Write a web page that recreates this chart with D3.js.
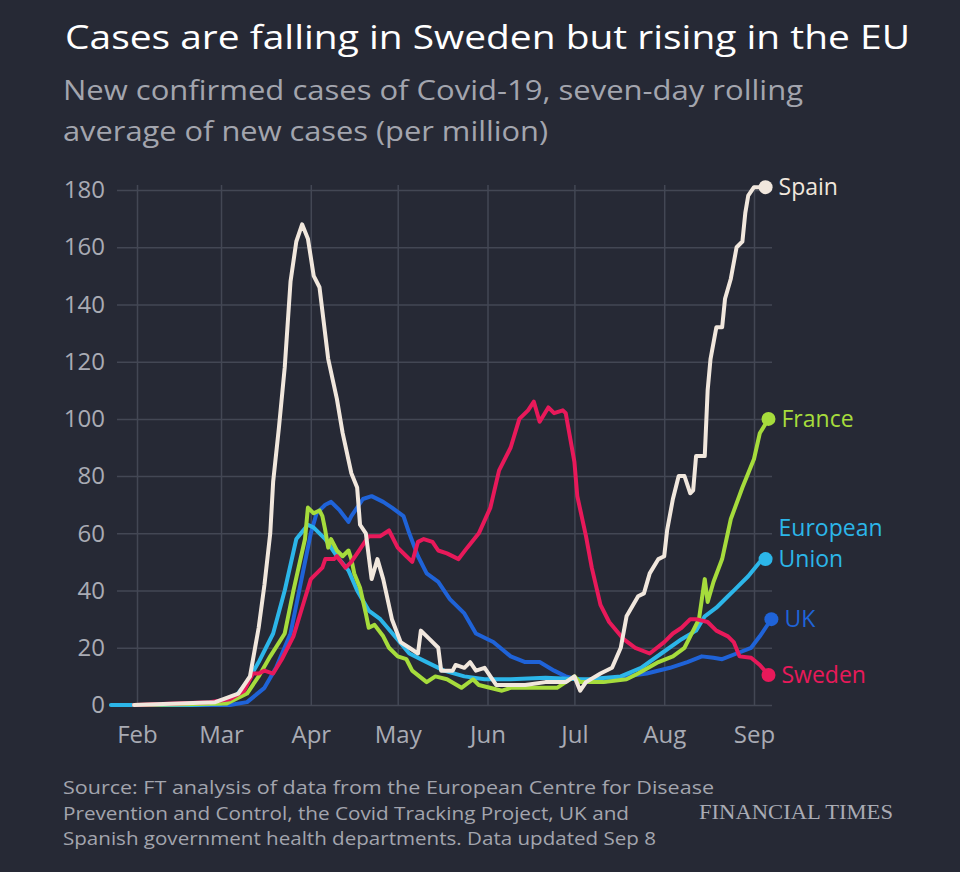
<!DOCTYPE html>
<html><head><meta charset="utf-8">
<script src="https://cdn.jsdelivr.net/npm/d3@7"></script>
<style>html,body{margin:0;background:#262935;} svg{display:block}</style>
</head><body><svg id="c" width="960" height="872"></svg>
<script>
// ---- data (year 2020) ----
const monthTicks = ["02-01","03-01","04-01","05-01","06-01","07-01","08-01","09-01"];
const monthLabels = ["Feb","Mar","Apr","May","Jun","Jul","Aug","Sep"];
const yTicks = [0,20,40,60,80,100,120,140,160,180];

const euData = [["01-23",0],["02-20",0],["03-01",0.5],["03-06",3],["03-10",8],["03-14",15],["03-19",25],["03-23",40],["03-27",58],["03-31",63],["04-02",62],["04-06",58],["04-10",52],["04-14",47],["04-17",40],["04-21",33],["04-25",30],["04-30",24],["05-05",18],["05-11",15],["05-17",12],["05-24",10],["05-31",9],["06-09",9],["06-21",9.5],["07-03",9],["07-06",9],["07-17",10],["07-24",13],["07-31",18],["08-07",23],["08-12",26],["08-15",31],["08-19",34],["08-23",38],["08-25",40],["08-30",45],["09-03",50],["09-05",51]];
const ukData = [["01-31",0],["03-04",0],["03-10",1],["03-16",6],["03-20",13],["03-25",25],["03-28",40],["04-01",60],["04-03",67],["04-06",70],["04-08",71],["04-11",68],["04-14",64],["04-15",66],["04-19",72],["04-22",73],["04-26",71],["04-29",69],["05-03",66],["05-05",60],["05-08",52],["05-11",46],["05-15",43],["05-19",37],["05-24",32],["05-28",25],["06-03",22],["06-09",17],["06-14",15],["06-19",15],["06-24",12],["06-28",10],["07-02",9],["07-11",8],["07-19",10],["07-26",11],["08-03",13],["08-09",15],["08-14",17],["08-18",16.5],["08-21",16],["08-26",18],["08-31",20],["09-03",24],["09-05",27],["09-07",30]];
const franceData = [["01-31",0],["03-03",0.5],["03-10",4],["03-14",10],["03-18",17],["03-23",25],["03-26",40],["03-28",49],["03-30",58],["03-31",69],["04-02",67],["04-04",68],["04-05",66],["04-06",61],["04-07",55],["04-08",58],["04-10",54],["04-12",52],["04-14",54],["04-15",51],["04-16",46],["04-18",41],["04-20",32],["04-21",27],["04-23",28],["04-26",24],["04-28",20],["05-01",17],["05-04",16],["05-06",12],["05-11",8],["05-14",10],["05-18",9],["05-23",6],["05-27",9],["05-29",7],["06-06",5],["06-09",6],["06-18",6],["06-25",6],["07-01",10],["07-03",8],["07-11",8],["07-19",9],["07-23",11],["07-30",15],["08-04",17],["08-08",20],["08-10",24],["08-13",30],["08-14",37],["08-15",44],["08-16",36],["08-18",43],["08-21",51],["08-24",65],["08-28",76],["09-01",86],["09-03",95],["09-06",100]];
const swedenData = [["01-31",0],["02-26",1],["03-04",2],["03-09",5],["03-12",11],["03-14",11],["03-16",12],["03-19",11],["03-22",16],["03-26",24],["03-29",34],["04-01",44],["04-03",46],["04-05",48],["04-06",51],["04-09",51],["04-10",52],["04-13",48],["04-15",50],["04-17",53],["04-21",59],["04-25",59],["04-28",61],["05-01",55],["05-04",52],["05-06",50],["05-08",57],["05-10",58],["05-13",57],["05-15",54],["05-18",53],["05-22",51],["05-25",55],["05-29",60],["06-02",69],["06-05",82],["06-09",90],["06-12",100],["06-15",103],["06-17",106],["06-19",99],["06-22",104],["06-24",102],["06-27",103],["06-28",102],["07-01",85],["07-02",73],["07-05",59],["07-07",48],["07-10",35],["07-13",29],["07-18",23],["07-22",20],["07-27",18],["08-01",22],["08-04",25],["08-07",27],["08-10",30],["08-12",30],["08-16",29],["08-19",26],["08-23",24],["08-25",22],["08-27",17],["08-31",16.5],["09-03",14],["09-06",10.5]];
const spainData = [["01-31",0],["02-28",1],["03-07",4],["03-11",10],["03-14",27],["03-16",42],["03-18",60],["03-19",78],["03-21",97],["03-23",118],["03-25",148],["03-27",162],["03-29",168],["03-31",163],["04-02",150],["04-04",146],["04-07",121],["04-10",107],["04-12",95],["04-15",81],["04-17",76],["04-18",63],["04-20",60],["04-22",44],["04-24",51],["04-26",44],["04-29",30],["05-02",22],["05-05",20],["05-08",18],["05-09",26],["05-12",23],["05-15",20],["05-16",12],["05-20",12],["05-21",14],["05-24",13],["05-26",15],["05-28",12],["05-31",13],["06-04",7],["06-07",7],["06-14",7],["06-21",8],["06-28",8],["07-01",10],["07-03",5],["07-05",8],["07-10",11],["07-14",13],["07-17",20],["07-19",31],["07-23",38],["07-25",39],["07-27",46],["07-30",51],["08-01",52],["08-02",61],["08-04",72],["08-06",80],["08-08",80],["08-10",74],["08-11",75],["08-12",87],["08-15",87],["08-16",110],["08-17",121],["08-19",132],["08-21",132],["08-22",142],["08-24",149],["08-26",160],["08-28",162],["08-29",172],["08-30",178],["09-01",181],["09-05",181]];

const seriesNames = ["UK","European Union","France","Sweden","Spain"];
const seriesColors = ["#1f63d8","#2cb6e9","#a6dc3c","#e8195a","#f1e7dd"];
const seriesData = [ukData, euData, franceData, swedenData, spainData];

const title = "Cases are falling in Sweden but rising in the EU";
const subtitle = ["New confirmed cases of Covid-19, seven-day rolling","average of new cases (per million)"];
const source = ["Source: FT analysis of data from the European Centre for Disease","Prevention and Control, the Covid Tracking Project, UK and","Spanish government health departments. Data updated Sep 8"];
const brand = "FINANCIAL TIMES";

// ---- drawing ----
const parse = d3.utcParse("%Y-%m-%d");
const pd = s => parse("2020-" + s);
const svg = d3.select("#c");
const FONT = "'Open Sans', 'Noto Sans', sans-serif";

const x = d3.scaleUtc().domain([pd(monthTicks[0]), pd(monthTicks[7])]).range([137, 754]);
const y = d3.scaleLinear().domain([0, 180]).range([705, 190]);

svg.append("rect").attr("width",960).attr("height",872).attr("fill","#262935");

function fitText(sel, w) { sel.attr("textLength", w).attr("lengthAdjust","spacingAndGlyphs"); }

// title
svg.append("text").attr("x",65).attr("y",49).text(title)
  .attr("font-family",FONT).attr("font-size",33).attr("fill","#ffffff").call(fitText, 845);
const subW = [740, 485];
subtitle.forEach((t,i)=>{
  svg.append("text").attr("x",63).attr("y",100+i*41).text(t)
    .attr("font-family",FONT).attr("font-size",28).attr("fill","#a3a5ae").call(fitText, subW[i]);
});

// y grid + labels
const gy = svg.append("g").attr("transform","translate(117,0)")
  .call(d3.axisLeft(y).tickValues(yTicks).tickSize(-655).tickPadding(12).tickFormat(d3.format("d")));
gy.select(".domain").remove();
gy.selectAll(".tick line").attr("stroke","#434754").attr("stroke-width",1.5);
gy.selectAll(".tick text").attr("font-family",FONT).attr("font-size",24).attr("fill","#a9abb4");

// x grid + labels
const gx = svg.append("g").attr("transform","translate(0,705)")
  .call(d3.axisBottom(x).tickValues(monthTicks.map(pd)).tickSize(-520).tickPadding(21)
    .tickFormat((d,i)=>monthLabels[i]));
gx.select(".domain").remove();
gx.selectAll(".tick line").attr("stroke","#434754").attr("stroke-width",1.5);
gx.selectAll(".tick text").attr("font-family",FONT).attr("font-size",24).attr("fill","#a9abb4");

// lines
const line = d3.line().x(d=>x(pd(d[0]))).y(d=>y(d[1]));
seriesData.forEach((data,i)=>{
  svg.append("path").datum(data).attr("d",line).attr("fill","none")
    .attr("stroke",seriesColors[i]).attr("stroke-width",4)
    .attr("stroke-linejoin","round").attr("stroke-linecap","round");
  const last = data[data.length-1];
  svg.append("circle").attr("cx",x(pd(last[0]))).attr("cy",y(last[1])).attr("r",7)
    .attr("fill",seriesColors[i]);
});

// series labels
const labelLines = [["UK"],["European","Union"],["France"],["Sweden"],["Spain"]];
seriesData.forEach((data,i)=>{
  const last = data[data.length-1];
  const cx = x(pd(last[0])), cy = y(last[1]);
  const lines = labelLines[i];
  lines.forEach((t,j)=>{
    svg.append("text").attr("x",cx+13).attr("y",cy+8-(lines.length-1-j)*31).text(t)
      .attr("font-family",FONT).attr("font-size",23).attr("fill",seriesColors[i]);
  });
});

// footer
const srcW = [651, 566, 593];
source.forEach((t,i)=>{
  svg.append("text").attr("x",63).attr("y",794+i*25.5).text(t)
    .attr("font-family",FONT).attr("font-size",18.5).attr("fill","#a3a5ae").call(fitText, srcW[i]);
});
svg.append("text").attr("x",699).attr("y",819).text(brand)
  .attr("font-family","'Liberation Serif', 'DejaVu Serif', serif").attr("font-size",20)
  .attr("fill","#a9abb4").call(fitText, 194);
</script></body></html>
